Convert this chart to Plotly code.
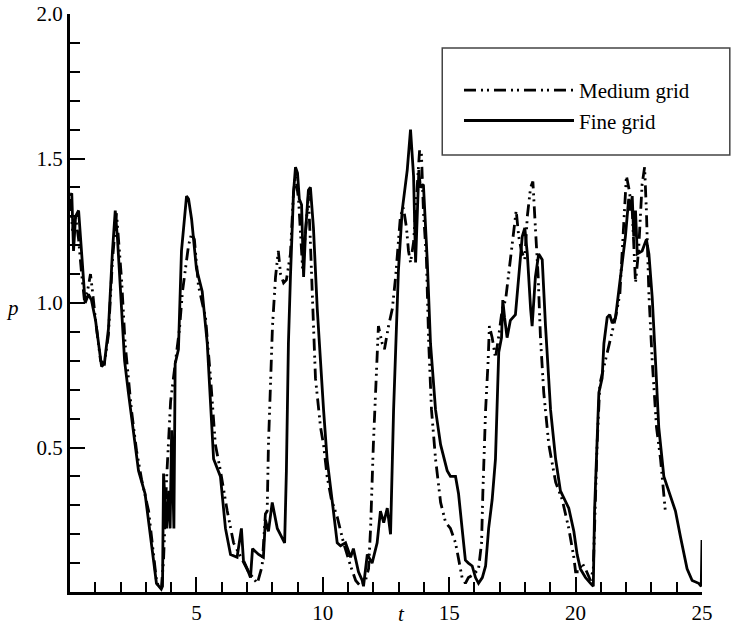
import plotly.graph_objects as go

# Fine grid (solid)
t_fine = [0.02, 0.07, 0.14, 0.22, 0.34, 0.42, 0.60, 0.73, 0.85, 1.01, 1.25, 1.36, 1.52, 1.68, 1.79, 1.88,
          2.04, 2.16, 2.31, 2.58, 2.71, 2.97, 3.22, 3.42, 3.61, 3.66, 3.70, 3.82, 3.90, 3.96, 4.02, 4.11,
          4.16, 4.29, 4.41, 4.53, 4.61, 4.69, 4.81, 5.00, 5.23, 5.43, 5.56, 5.68, 5.95, 6.15, 6.35, 6.61,
          6.78, 6.86, 7.01, 7.14, 7.22, 7.46, 7.65, 7.73, 7.85, 8.00, 8.20, 8.39, 8.49, 8.56, 8.64, 8.72,
          8.84, 8.92, 9.00, 9.07, 9.16, 9.24, 9.32, 9.43, 9.51, 9.63, 9.78, 10.03, 10.17, 10.42, 10.57,
          10.70, 10.90, 11.10, 11.21, 11.41, 11.56, 11.61, 11.76, 11.95, 12.15, 12.28, 12.41, 12.55, 12.68,
          12.80, 12.99, 13.14, 13.34, 13.47, 13.59, 13.67, 13.80, 13.86, 13.98, 14.13, 14.26, 14.46, 14.66,
          14.92, 15.05, 15.25, 15.37, 15.51, 15.64, 15.76, 15.91, 16.04, 16.16, 16.31, 16.44, 16.56, 16.70,
          16.83, 16.90, 16.96, 17.07, 17.12, 17.19, 17.29, 17.42, 17.62, 17.75, 17.89, 17.99, 18.09, 18.22,
          18.28, 18.41, 18.54, 18.68, 18.81, 19.01, 19.21, 19.40, 19.56, 19.73, 19.93, 20.06, 20.19, 20.39,
          20.59, 20.70, 20.75, 20.83, 20.92, 21.05, 21.12, 21.25, 21.35, 21.45, 21.58, 21.65, 21.78, 21.97,
          22.10, 22.17, 22.24, 22.30, 22.37, 22.44, 22.63, 22.80, 22.90, 23.03, 23.16, 23.29, 23.49, 23.75,
          23.95, 24.15, 24.41, 24.61, 24.87, 24.97, 25.00]
p_fine = [1.37, 1.38, 1.18, 1.30, 1.32, 1.22, 1.00, 1.03, 1.01, 0.94, 0.78, 0.79, 0.91, 1.18, 1.32, 1.22,
          0.98, 0.80, 0.69, 0.52, 0.42, 0.34, 0.17, 0.03, 0.01, 0.02, 0.41, 0.22, 0.35, 0.22, 0.56, 0.22,
          0.79, 0.84, 1.18, 1.30, 1.37, 1.36, 1.29, 1.12, 1.04, 0.86, 0.63, 0.46, 0.40, 0.22, 0.13, 0.12,
          0.22, 0.11, 0.08, 0.05, 0.15, 0.13, 0.12, 0.25, 0.21, 0.31, 0.22, 0.19, 0.17, 0.42, 0.86, 1.09,
          1.38, 1.47, 1.45, 1.36, 1.34, 1.09, 1.25, 1.39, 1.40, 1.26, 0.98, 0.63, 0.46, 0.28, 0.17,
          0.16, 0.17, 0.12, 0.15, 0.07, 0.04, 0.02, 0.13, 0.10, 0.17, 0.28, 0.24, 0.29, 0.20,
          0.63, 1.11, 1.32, 1.46, 1.60, 1.44, 1.14, 1.46, 1.40, 1.41, 1.15, 0.86, 0.63, 0.51,
          0.42, 0.40, 0.40, 0.34, 0.22, 0.11, 0.10, 0.09, 0.05, 0.03, 0.05, 0.09, 0.22, 0.32,
          0.46, 0.63, 0.83, 0.88, 1.01, 0.95, 0.88, 0.94, 0.96, 1.09, 1.23, 1.26, 1.17, 0.98,
          0.92, 1.09, 1.17, 1.15, 0.92, 0.63, 0.46, 0.35, 0.32, 0.29, 0.21, 0.13, 0.08, 0.05,
          0.03, 0.02, 0.28, 0.46, 0.69, 0.74, 0.86, 0.95, 0.96, 0.93, 0.95, 1.00, 1.09, 1.23,
          1.36, 1.32, 1.37, 1.23, 1.32, 1.17, 1.18, 1.22, 1.17, 1.02, 0.80, 0.57, 0.40, 0.33,
          0.28, 0.19, 0.08, 0.04, 0.03, 0.02, 0.18]

# Medium grid (dash-dot-dot)
t_med = [0.02, 0.10, 0.22, 0.34, 0.45, 0.57, 0.69, 0.81, 0.89, 1.01, 1.21, 1.36, 1.52, 1.68, 1.84, 1.92,
         2.04, 2.18, 2.43, 2.63, 2.83, 3.11, 3.26, 3.42, 3.54, 3.62, 3.70, 3.82, 3.98, 4.17, 4.33, 4.45,
         4.57, 4.69, 4.81, 4.92, 5.08, 5.36, 5.56, 5.75, 5.95, 6.22, 6.47, 6.78, 7.06, 7.41, 7.60, 7.73,
         7.80, 7.85, 7.93, 8.01, 8.13, 8.24, 8.33, 8.45, 8.56, 8.72, 8.84, 8.92, 9.04, 9.20, 9.32, 9.43,
         9.50, 9.58, 9.71, 9.91, 10.03, 10.17, 10.34, 10.57, 10.82, 11.10, 11.30, 11.49, 11.69, 11.81,
         11.89, 12.00, 12.12, 12.20, 12.35, 12.44, 12.60, 12.75, 12.88, 13.07, 13.19, 13.31, 13.39, 13.47,
         13.59, 13.73, 13.83, 13.90, 13.98, 14.10, 14.19, 14.30, 14.46, 14.66, 14.86, 15.05, 15.25, 15.51,
         15.64, 15.76, 15.96, 16.16, 16.28, 16.33, 16.44, 16.54, 16.59, 16.70, 16.83, 16.95, 17.10, 17.23,
         17.42, 17.56, 17.65, 17.75, 17.86, 17.99, 18.09, 18.22, 18.31, 18.41, 18.52, 18.61, 18.74, 18.94,
         19.21, 19.47, 19.73, 19.93, 20.00, 20.13, 20.26, 20.39, 20.59, 20.70, 20.79, 20.85, 20.96, 21.12,
         21.25, 21.38, 21.58, 21.75, 21.91, 22.01, 22.10, 22.24, 22.37, 22.49, 22.63, 22.73, 22.80, 22.90,
         23.03, 23.20, 23.36, 23.55, 23.62]
p_med = [1.36, 1.25, 1.30, 1.22, 1.11, 1.01, 1.04, 1.10, 1.04, 0.94, 0.80, 0.79, 0.89, 1.15, 1.31, 1.22,
         1.08, 0.86, 0.63, 0.49, 0.39, 0.28, 0.16, 0.04, 0.01, 0.02, 0.11, 0.39, 0.66, 0.80, 0.91, 1.04,
         1.13, 1.20, 1.24, 1.22, 1.06, 0.95, 0.74, 0.51, 0.42, 0.28, 0.17, 0.12, 0.07, 0.03, 0.09, 0.27,
         0.28, 0.51, 0.74, 0.92, 1.09, 1.18, 1.10, 1.07, 1.08, 1.17, 1.38, 1.44, 1.36, 1.12, 1.25, 1.37,
         1.23, 1.02, 0.74, 0.57, 0.51, 0.40, 0.32, 0.26, 0.17, 0.09, 0.04, 0.02, 0.04, 0.08,
         0.22, 0.51, 0.74, 0.92, 0.86, 0.84, 0.92, 0.98, 1.09, 1.30, 1.33, 1.26, 1.18, 1.14,
         1.21, 1.38, 1.53, 1.52, 1.32, 1.15, 0.86, 0.63, 0.46, 0.31, 0.24, 0.22, 0.17, 0.05,
         0.03, 0.05, 0.06, 0.08, 0.17, 0.34, 0.63, 0.80, 0.92, 0.88, 0.81, 0.88, 0.98, 1.01,
         1.15, 1.26, 1.32, 1.23, 1.18, 1.15, 1.30, 1.40, 1.42, 1.26, 1.09, 0.88, 0.69, 0.51,
         0.38, 0.32, 0.22, 0.12, 0.07, 0.07, 0.10, 0.08, 0.04, 0.08, 0.34, 0.51, 0.72, 0.78,
         0.83, 0.88, 0.95, 1.03, 1.26, 1.44, 1.40, 1.32, 1.07, 1.18, 1.41, 1.47, 1.32, 1.03,
         0.80, 0.57, 0.46, 0.28, 0.27]

x_tickvals = [5, 10, 15, 20, 25]
x_ticktext = ["5", "10", "15", "20", "25"]
y_tickvals = [0.5, 1.0, 1.5, 2.0]
y_ticktext = ["0.5", "1.0", "1.5", "2.0"]

FONT = "Times New Roman, Liberation Serif, DejaVu Serif, serif"

fig = go.Figure()
fig.add_trace(go.Scatter(x=t_med, y=p_med, mode="lines", name="Medium grid",
                         line=dict(color="black", width=2.8, dash="12px,5px,2px,4px,2px,5px")))
fig.add_trace(go.Scatter(x=t_fine, y=p_fine, mode="lines", name="Fine grid",
                         line=dict(color="black", width=2.8)))

axis_common = dict(showgrid=False, zeroline=False, showline=True, linecolor="black", linewidth=3,
                   ticks="inside", ticklen=15, tickwidth=2, tickcolor="black", automargin=False,
                   tickfont=dict(family=FONT, size=21, color="black"))

fig.update_xaxes(range=[0, 25], tickmode="array", tickvals=x_tickvals, ticktext=x_ticktext,
                 minor=dict(ticks="inside", ticklen=10, tickwidth=2, tickcolor="black", dtick=1, tick0=0),
                 **axis_common)
fig.update_yaxes(range=[0, 2.0], tickmode="array", tickvals=y_tickvals, ticktext=y_ticktext,
                 minor=dict(ticks="inside", ticklen=10, tickwidth=2, tickcolor="black", dtick=0.1, tick0=0),
                 **axis_common)

fig.add_shape(type="rect", xref="paper", yref="paper", x0=0.589, x1=1.044, y0=0.756, y1=0.941,
              line=dict(color="#444", width=1.5), fillcolor="white", layer="below")

fig.add_annotation(text="<i>p</i>", xref="paper", yref="paper", x=-0.105, y=0.491, showarrow=False,
                   font=dict(family=FONT, size=21, color="black"))
fig.add_annotation(text="<i>t</i>", xref="paper", yref="paper", x=0.525, y=-0.062, showarrow=False,
                   font=dict(family=FONT, size=21, color="black"))

fig.update_layout(
    width=734, height=636,
    margin=dict(l=70, r=32, t=14, b=44, autoexpand=False),
    paper_bgcolor="white", plot_bgcolor="rgba(0,0,0,0)",
    font=dict(family=FONT, color="black"),
    showlegend=True,
    legend=dict(x=0.6155, y=0.903, xanchor="left", yanchor="top", bgcolor="rgba(0,0,0,0)",
                font=dict(family=FONT, size=21, color="black"), itemwidth=110,
                borderwidth=0, tracegroupgap=0),
)

fig.write_html("out.html", post_script="document.body.style.margin='0';",
               config={"displayModeBar": False})
